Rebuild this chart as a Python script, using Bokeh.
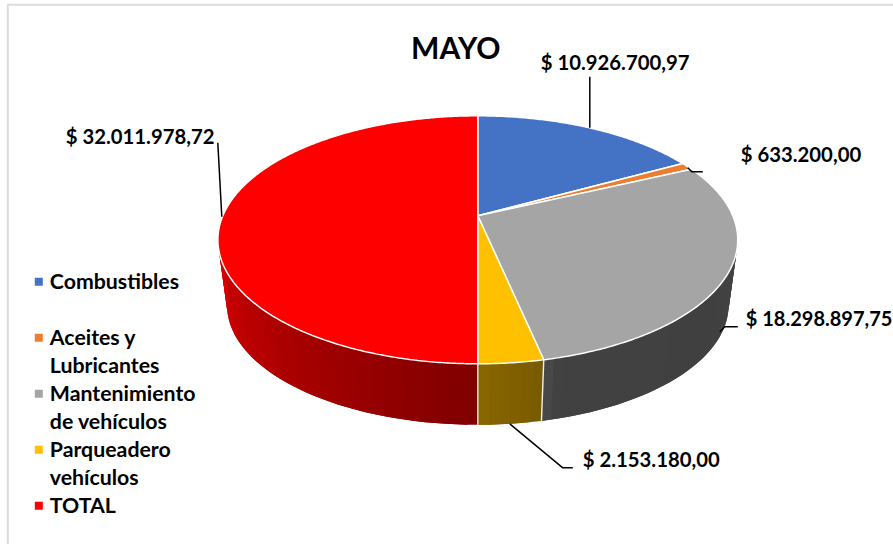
import numpy as np
from bokeh.plotting import figure
from bokeh.models import Range1d
from bokeh.core.properties import value
from bokeh.embed import file_html
from bokeh.resources import INLINE

# data
categories = ["Combustibles", "Aceites y Lubricantes", "Mantenimiento de vehículos", "Parqueadero vehículos", "TOTAL"]
values = [10926700.97, 633200.00, 18298897.75, 2153180.00, 32011978.72]
value_labels = ["$ 10.926.700,97", "$ 633.200,00", "$ 18.298.897,75", "$ 2.153.180,00", "$ 32.011.978,72"]
colors = ["#4472C4", "#ED7D31", "#A5A5A5", "#FFC000", "#FF0000"]
legend_lines = [["Combustibles"], ["Aceites y", "Lubricantes"], ["Mantenimiento", "de vehículos"], ["Parqueadero", "vehículos"], ["TOTAL"]]
title = "MAYO"

FONT = value("Lato")
p = figure(width=893, height=544, output_backend="svg", toolbar_location=None,
           x_range=Range1d(0.7, 893.7), y_range=Range1d(544.7, 0.7), min_border=0,
           x_axis_type=None, y_axis_type=None, outline_line_color=None,
           background_fill_color="white", border_fill_color="white")
p.grid.visible = False

# perspective projection of the pie disc
K, A, B = 0.1935, 119.35, 255.0
CX, TOP_Y, BOT_Y, BOT_S = 478.0, 216.0, 282.2, 0.965

def rim(theta, cy=TOP_Y, s=1.0):
    t = np.radians(theta)
    d = 1 + K * np.cos(t)
    return CX + s * B * np.sin(t) / d, cy - s * A * np.cos(t) / d

v = np.array(values, float)
edges = np.concatenate([[0], np.cumsum(v)]) / v.sum() * 360

# side walls: overlapping strips shaded across each slice
shade = {2: ([95, 125, 165, 168], [0.42, 0.39, 0.40, 0.46]),
         3: ([168, 180], [0.47, 0.54]),
         4: ([180, 265], [0.50, 0.86])}
for i, (ts, fs) in shade.items():
    lo, hi = max(edges[i], 96), min(edges[i + 1], 264)
    th = np.arange(lo, hi + 2, 2.0)
    th[-1] = hi
    r, g, b = [int(colors[i][j:j + 2], 16) for j in (1, 3, 5)]
    xs, ys, cols = [], [], []
    for a0, a1 in zip(th[:-1], th[1:]):
        a2 = min(a1 + 2.0, hi)
        arc = np.array([a0, (a0 + a2) / 2, a2])
        x0, y0 = rim(arc)
        x1, y1 = rim(arc[::-1], BOT_Y, BOT_S)
        xs.append(list(x0) + list(x1)); ys.append(list(y0) + list(y1))
        f = np.interp((a0 + a1) / 2, ts, fs)
        cols.append("#%02x%02x%02x" % (int(r * f), int(g * f), int(b * f)))
    p.patches(xs, ys, fill_color=cols, line_color=None)

# white seams on the wall
for e in edges[3:5]:
    x0, y0 = rim(e); x1, y1 = rim(e, BOT_Y, BOT_S)
    p.line([x0, x1], [y0, y1], line_color="#f4f0e8", line_width=1.4)

# top face
for i, c in enumerate(colors):
    th = np.linspace(edges[i], edges[i + 1], max(3, int(edges[i + 1] - edges[i]) * 2))
    x, y = rim(th)
    p.patch(np.concatenate([[CX], x]), np.concatenate([[TOP_Y], y]),
            fill_color=c, line_color="white", line_width=1.5)

# frame
p.line([8, 8, 894], [545, 5, 5], line_color="#dcdcdc", line_width=2)

# leaders
leaders = [([590, 590], [77, 128]),
           ([688, 692, 703], [168, 172, 172]),
           ([720, 725, 738], [332, 327, 327]),
           ([510, 563, 573], [424, 468, 468]),
           ([218, 222], [143, 217])]
for lx, ly in leaders:
    p.line(lx, ly, line_color="black", line_width=1.5)

# value labels
label_x = [541, 741, 746, 583, 66]
label_y = [62, 154, 318, 459, 136]
label_size = ["20.3px", "20.3px", "20px", "20.3px", "20.3px"]
for x, y, s, fs in zip(label_x, label_y, value_labels, label_size):
    p.text([x], [y], text=[s], text_font=FONT, text_font_style="bold",
           text_font_size=fs, text_color="black", text_align="left", text_baseline="middle")

# title
p.text([456], [47], text=[title], text_font=FONT, text_font_style="bold",
       text_font_size="30px", text_color="black", text_align="center", text_baseline="middle")

# legend
ly = 281
for lines, c in zip(legend_lines, colors):
    p.rect([39], [ly + 1], width=8, height=8, fill_color=c, line_color=None)
    for k, s in enumerate(lines):
        p.text([50], [ly + k * 28], text=[s], text_font=FONT, text_font_style="bold",
               text_font_size="21.3px", text_color="black", text_align="left", text_baseline="middle")
    ly += 56 if len(lines) == 2 or lines[0] == "Combustibles" else 28

open("out.html", "w").write(file_html(p, INLINE))
